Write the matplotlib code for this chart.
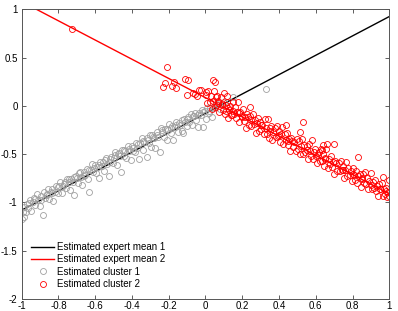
import matplotlib
matplotlib.use("Agg")
import matplotlib.pyplot as plt
import numpy as np

plt.rcParams['font.family'] = ['Liberation Sans', 'DejaVu Sans']

# expert mean lines (end points)
mean1_x = [-1.0, 1.0]
mean1_y = [-1.08, 0.925]
mean2_x = [-0.92, 1.0]
mean2_y = [1.0, -0.91]

# cluster 1 (grey circles)
c1_x = [-0.995, -0.990, -0.985, -0.978, -0.970, -0.963, -0.955, -0.948, -0.940, -0.932,
        -0.925, -0.917, -0.910, -0.902, -0.895, -0.886, -0.880, -0.872, -0.865, -0.857,
        -0.850, -0.842, -0.835, -0.827, -0.820, -0.812, -0.805, -0.797, -0.790, -0.782,
        -0.775, -0.767, -0.760, -0.752, -0.745, -0.737, -0.730, -0.722, -0.713, -0.707,
        -0.700, -0.692, -0.685, -0.677, -0.670, -0.662, -0.655, -0.647, -0.640, -0.632,
        -0.625, -0.617, -0.610, -0.602, -0.595, -0.587, -0.580, -0.572, -0.565, -0.557,
        -0.550, -0.542, -0.535, -0.527, -0.520, -0.512, -0.505, -0.497, -0.490, -0.482,
        -0.475, -0.467, -0.460, -0.452, -0.445, -0.437, -0.430, -0.422, -0.415, -0.407,
        -0.400, -0.392, -0.385, -0.377, -0.370, -0.362, -0.355, -0.347, -0.340, -0.332,
        -0.320, -0.317, -0.310, -0.302, -0.295, -0.287, -0.280, -0.272, -0.265, -0.257,
        -0.248, -0.242, -0.235, -0.227, -0.220, -0.212, -0.205, -0.197, -0.190, -0.182,
        -0.175, -0.167, -0.160, -0.152, -0.145, -0.137, -0.130, -0.124, -0.117, -0.110,
        -0.102, -0.095, -0.087, -0.080, -0.072, -0.065, -0.057, -0.050, -0.039, -0.035,
        -0.027, -0.020, -0.012, -0.005, 0.003, 0.010, 0.018, 0.025, 0.035, 0.045,
        0.060, 0.080, 0.100, 0.150, 0.330,
        -0.998, -0.960, -0.928, -0.893, -0.860, -0.833, -0.800, -0.770, -0.741, -0.716,
        -0.688, -0.660, -0.636, -0.605, -0.578, -0.548, -0.522, -0.494, -0.470, -0.441,
        -0.418, -0.395, -0.366, -0.338, -0.312, -0.290, -0.262, -0.238, -0.210, -0.185,
        -0.158, -0.128, -0.100, -0.070, -0.042, -0.015, 0.020, 0.050]
c1_y = [-1.100, -1.155, -1.050, -1.103, -1.015, -1.058, -0.970, -1.093, -0.995, -0.957,
        -1.030, -0.912, -0.975, -1.037, -0.930, -1.131, -0.895, -0.958, -0.910, -0.862,
        -0.965, -0.897, -0.860, -0.982, -0.894, -0.827, -0.900, -0.832, -0.785, -0.907,
        -0.830, -0.792, -0.846, -0.757, -0.790, -0.873, -0.755, -0.786, -0.928, -0.722,
        -0.745, -0.797, -0.680, -0.732, -0.815, -0.687, -0.719, -0.652, -0.755, -0.897,
        -0.660, -0.602, -0.685, -0.617, -0.692, -0.632, -0.745, -0.577, -0.620, -0.582,
        -0.675, -0.537, -0.599, -0.722, -0.555, -0.527, -0.591, -0.542, -0.475, -0.617,
        -0.500, -0.522, -0.685, -0.457, -0.520, -0.472, -0.535, -0.417, -0.470, -0.562,
        -0.415, -0.437, -0.480, -0.382, -0.434, -0.547, -0.380, -0.332, -0.455, -0.377,
        -0.525, -0.332, -0.385, -0.297, -0.430, -0.322, -0.335, -0.437, -0.270, -0.322,
        -0.473, -0.227, -0.270, -0.322, -0.235, -0.357, -0.250, -0.192, -0.276, -0.207,
        -0.350, -0.222, -0.165, -0.267, -0.180, -0.202, -0.265, -0.279, -0.132, -0.165,
        -0.207, -0.120, -0.162, -0.085, -0.197, -0.110, -0.072, -0.145, -0.224, -0.070,
        -0.092, -0.045, -0.217, -0.058, -0.132, -0.025, -0.077, -0.020, -0.120, -0.020,
        0.015, -0.035, 0.045, 0.090, 0.175,
        -1.170, -1.010, -0.960, -0.980, -0.920, -0.905, -0.845, -0.805, -0.760, -0.740,
        -0.700, -0.730, -0.668, -0.640, -0.610, -0.560, -0.585, -0.510, -0.485, -0.455,
        -0.445, -0.470, -0.400, -0.360, -0.350, -0.300, -0.300, -0.250, -0.240, -0.230,
        -0.200, -0.150, -0.135, -0.100, -0.095, -0.060, -0.050, -0.005]

# cluster 2 (red circles)
c2_x = [-0.724, -0.233, -0.220, -0.211, -0.180, -0.170, -0.160, -0.110, -0.094, -0.100,
        -0.067, -0.057, -0.045, -0.034, -0.025, 0.003, 0.039, 0.053, 0.061, 0.116,
        0.004, 0.010, 0.016, 0.022, 0.028, 0.034, 0.040, 0.046, 0.052, 0.058,
        0.064, 0.070, 0.076, 0.082, 0.088, 0.094, 0.100, 0.106, 0.112, 0.118,
        0.124, 0.130, 0.136, 0.142, 0.148, 0.154, 0.160, 0.166, 0.172, 0.178,
        0.184, 0.190, 0.196, 0.202, 0.208, 0.214, 0.220, 0.226, 0.232, 0.238,
        0.244, 0.250, 0.256, 0.262, 0.268, 0.274, 0.280, 0.286, 0.292, 0.298,
        0.304, 0.310, 0.316, 0.322, 0.328, 0.334, 0.340, 0.346, 0.352, 0.358,
        0.364, 0.370, 0.376, 0.382, 0.388, 0.394, 0.400, 0.406, 0.412, 0.418,
        0.424, 0.430, 0.436, 0.442, 0.448, 0.454, 0.460, 0.466, 0.472, 0.478,
        0.484, 0.490, 0.496, 0.502, 0.508, 0.514, 0.520, 0.526, 0.532, 0.538,
        0.544, 0.550, 0.556, 0.562, 0.568, 0.574, 0.580, 0.586, 0.592, 0.598,
        0.604, 0.610, 0.616, 0.622, 0.628, 0.634, 0.640, 0.646, 0.652, 0.658,
        0.664, 0.670, 0.676, 0.682, 0.688, 0.694, 0.700, 0.706, 0.712, 0.718,
        0.724, 0.730, 0.736, 0.742, 0.748, 0.754, 0.760, 0.766, 0.772, 0.778,
        0.784, 0.790, 0.796, 0.802, 0.808, 0.814, 0.820, 0.826, 0.832, 0.838,
        0.844, 0.850, 0.856, 0.862, 0.868, 0.874, 0.880, 0.886, 0.892, 0.898,
        0.904, 0.910, 0.916, 0.922, 0.928, 0.934, 0.940, 0.946, 0.952, 0.958,
        0.964, 0.970, 0.976, 0.982, 0.988, 0.994, 1.000,
        0.533, 0.440, 0.515, 0.240, 0.700, 0.830, 0.996, 0.966, 0.640, 0.660, 0.633,
        0.070, 0.090, 0.120, 0.150, 0.180, 0.110, 0.140, 0.200, 0.250, 0.300,
        0.350, 0.400, 0.450, 0.550, 0.600, 0.650, 0.750, 0.800, 0.850, 0.900,
        0.950, 0.980]
c2_y = [0.800, 0.200, 0.240, 0.400, 0.210, 0.250, 0.180, 0.280, 0.270, 0.110,
        0.130, 0.120, 0.100, 0.160, 0.160, 0.140, 0.270, 0.250, 0.100, 0.100,
        0.111, 0.025, 0.149, 0.043, 0.107, -0.029, 0.055, 0.149, -0.007, 0.087,
        0.011, 0.055, -0.061, 0.093, 0.017, -0.039, 0.135, -0.080, 0.004, 0.038,
        -0.128, -0.044, 0.000, -0.096, 0.038, -0.088, -0.014, -0.130, -0.066, 0.038,
        -0.168, -0.064, -0.120, -0.036, -0.152, -0.118, -0.234, -0.080, -0.116, -0.202,
        -0.108, -0.204, -0.080, -0.186, -0.142, -0.278, -0.174, -0.130, -0.256, -0.162,
        -0.237, -0.193, -0.289, -0.135, -0.231, -0.287, -0.133, -0.329, -0.225, -0.211,
        -0.357, -0.273, -0.229, -0.325, -0.211, -0.317, -0.263, -0.379, -0.295, -0.221,
        -0.397, -0.293, -0.349, -0.285, -0.401, -0.347, -0.463, -0.329, -0.365, -0.431,
        -0.377, -0.463, -0.339, -0.444, -0.360, -0.496, -0.412, -0.348, -0.494, -0.410,
        -0.476, -0.412, -0.548, -0.394, -0.470, -0.516, -0.352, -0.548, -0.474, -0.450,
        -0.596, -0.512, -0.478, -0.574, -0.450, -0.566, -0.502, -0.618, -0.544, -0.450,
        -0.646, -0.552, -0.598, -0.524, -0.630, -0.586, -0.702, -0.567, -0.593, -0.679,
        -0.595, -0.671, -0.567, -0.663, -0.619, -0.745, -0.661, -0.577, -0.723, -0.639,
        -0.715, -0.671, -0.777, -0.643, -0.719, -0.765, -0.671, -0.797, -0.723, -0.709,
        -0.845, -0.751, -0.707, -0.803, -0.689, -0.805, -0.751, -0.857, -0.783, -0.699,
        -0.864, -0.790, -0.846, -0.772, -0.878, -0.834, -0.930, -0.806, -0.862, -0.798,
        -0.934, -0.860, -0.916, -0.852, -0.948, -0.894, -0.930,
        -0.170, -0.200, -0.270, -0.010, -0.390, -0.530, -0.770, -0.740, -0.405, -0.390, -0.457,
        0.030, 0.010, -0.020, -0.050, -0.070, -0.050, -0.090, -0.100, -0.150, -0.200,
        -0.260, -0.300, -0.360, -0.460, -0.520, -0.550, -0.660, -0.710, -0.760, -0.820,
        -0.860, -0.880]

xticks = [-1, -0.8, -0.6, -0.4, -0.2, 0, 0.2, 0.4, 0.6, 0.8, 1]
xlabels = ['-1', '-0.8', '-0.6', '-0.4', '-0.2', '0', '0.2', '0.4', '0.6', '0.8', '1']
yticks = [-2, -1.5, -1, -0.5, 0, 0.5, 1]
ylabels = ['-2', '-1.5', '-1', '-0.5', '0', '0.5', '1']

fig = plt.figure(figsize=(3.98, 3.11), dpi=100)
ax = fig.add_axes([0.0545, 0.0386, 0.9236, 0.9315])

ax.plot(mean1_x, mean1_y, color='black', lw=1.0, label='Estimated expert mean 1')
ax.plot(mean2_x, mean2_y, color='red', lw=1.0, label='Estimated expert mean 2')
ax.plot(c1_x, c1_y, 'o', mfc='none', mec='#a0a0a0', ms=4.3, mew=0.6,
        label='Estimated cluster 1')
ax.plot(c2_x, c2_y, 'o', mfc='none', mec='red', ms=4.3, mew=0.6,
        label='Estimated cluster 2')

ax.set_xlim(-1, 1)
ax.set_ylim(-2, 1)
ax.set_xticks(xticks)
ax.set_xticklabels(xlabels)
ax.set_yticks(yticks)
ax.set_yticklabels(ylabels)
ax.tick_params(direction='in', top=True, right=True, labelsize=7, length=3,
               width=0.6, colors='#444444', labelcolor='black')
ax.tick_params(axis='x', pad=1.5)
ax.tick_params(axis='y', pad=3)
for s in ax.spines.values():
    s.set_color('#555555')
    s.set_linewidth(0.7)

ax.legend(loc='lower left', frameon=False, fontsize=7, handlelength=2.3,
          handletextpad=0.3, labelspacing=0.25, borderpad=0.4,
          borderaxespad=0.6)

fig.savefig('out.png', dpi=100)
